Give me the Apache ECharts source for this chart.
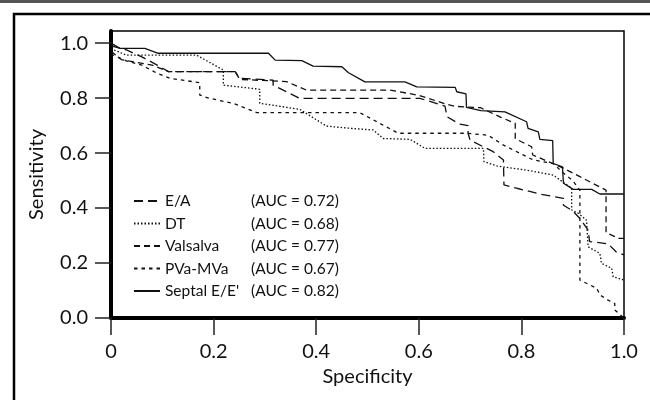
<!DOCTYPE html>
<html>
<head>
<meta charset="utf-8">
<script src="https://cdn.jsdelivr.net/npm/echarts@6/dist/echarts.min.js"></script>
<style>
  html, body { margin: 0; padding: 0; background: #fff; }
  #chart { width: 650px; height: 400px; }
</style>
</head>
<body>
<div id="chart"></div>
<script>
// ROC curves: [specificity, sensitivity]
const seriesNames = ['E/A', 'DT', 'Valsalva', 'PVa-MVa', "Septal E/E'"];
const aucValues = ['0.72', '0.68', '0.77', '0.67', '0.82'];
const tickValues = [0, 0.2, 0.4, 0.6, 0.8, 1.0];

const eaPoints = [
  [0, 0.99], [0.03, 0.975], [0.06, 0.95], [0.09, 0.92], [0.112, 0.896], [0.242, 0.896],
  [0.251, 0.872], [0.316, 0.865], [0.316, 0.847], [0.368, 0.799], [0.602, 0.799],
  [0.651, 0.771], [0.655, 0.732], [0.68, 0.705], [0.696, 0.70], [0.696, 0.672],
  [0.70, 0.647], [0.745, 0.605], [0.765, 0.575], [0.766, 0.484], [0.791, 0.472],
  [0.836, 0.451], [0.882, 0.435], [0.882, 0.41], [0.90, 0.39], [0.915, 0.36],
  [0.93, 0.32], [0.933, 0.278], [0.969, 0.27], [0.985, 0.24], [1.0, 0.23]
];
const dtPoints = [
  [0, 0.98], [0.025, 0.96], [0.03, 0.956], [0.167, 0.956], [0.219, 0.902], [0.219, 0.847],
  [0.29, 0.832], [0.29, 0.781], [0.368, 0.759], [0.42, 0.698], [0.466, 0.69],
  [0.511, 0.684], [0.531, 0.653], [0.583, 0.65], [0.612, 0.617], [0.726, 0.617],
  [0.727, 0.569], [0.752, 0.553], [0.81, 0.538], [0.862, 0.52], [0.898, 0.472],
  [0.898, 0.393], [0.911, 0.381], [0.927, 0.356], [0.93, 0.259], [0.953, 0.235],
  [0.956, 0.199], [0.976, 0.181], [0.979, 0.15], [1.0, 0.138]
];
const valsalvaPoints = [
  [0, 0.97], [0.02, 0.94], [0.05, 0.93], [0.08, 0.92], [0.112, 0.896], [0.242, 0.896],
  [0.251, 0.868], [0.342, 0.86], [0.381, 0.829], [0.544, 0.829], [0.60, 0.81],
  [0.65, 0.78], [0.67, 0.77], [0.72, 0.765], [0.76, 0.73], [0.788, 0.708],
  [0.788, 0.653], [0.80, 0.641], [0.82, 0.623], [0.822, 0.593], [0.83, 0.587],
  [0.882, 0.545], [0.965, 0.465], [0.965, 0.31], [0.99, 0.29], [1.0, 0.29]
];
const pvaPoints = [
  [0, 0.96], [0.03, 0.935], [0.06, 0.92], [0.09, 0.89], [0.115, 0.872], [0.173, 0.856],
  [0.173, 0.811], [0.19, 0.80], [0.24, 0.78], [0.284, 0.747], [0.485, 0.747],
  [0.56, 0.672], [0.693, 0.672], [0.735, 0.665], [0.765, 0.629], [0.823, 0.575],
  [0.862, 0.562], [0.88, 0.53], [0.90, 0.50], [0.914, 0.465], [0.914, 0.138],
  [0.947, 0.108], [0.953, 0.084], [0.969, 0.065], [0.982, 0.053], [0.982, 0.029], [1.0, 0.0]
];
const septalPoints = [
  [0, 1.0], [0.0175, 0.981], [0.066, 0.981], [0.092, 0.963], [0.307, 0.963], [0.32, 0.938],
  [0.372, 0.936], [0.394, 0.916], [0.45, 0.914], [0.463, 0.892], [0.495, 0.859],
  [0.573, 0.859], [0.596, 0.841], [0.671, 0.839], [0.674, 0.823], [0.692, 0.815],
  [0.693, 0.766], [0.721, 0.754], [0.768, 0.75], [0.81, 0.714], [0.813, 0.69],
  [0.833, 0.677], [0.836, 0.65], [0.861, 0.645], [0.862, 0.562], [0.88, 0.55],
  [0.882, 0.49], [0.901, 0.468], [0.937, 0.468], [0.953, 0.451], [1.0, 0.451]
];

const allPoints = [eaPoints, dtPoints, valsalvaPoints, pvaPoints, septalPoints];
// dash pattern per curve (solid for septal)
const dashTypes = [[9, 5], [1.5, 2], [6, 4], [3.5, 4], 'solid'];

const FONT = 'Lato';
const chart = echarts.init(document.getElementById('chart'));

const option = {
  animation: false,
  backgroundColor: '#fff',
  graphic: [
    // thin grey rule along the very top
    { type: 'rect', shape: { x: 0, y: 0, width: 650, height: 3 }, style: { fill: '#555' }, silent: true },
    // outer figure frame (runs off the right / bottom edge)
    { type: 'rect', shape: { x: 14, y: 14, width: 700, height: 500 }, style: { fill: 'none', stroke: '#000', lineWidth: 2.5 }, silent: true }
  ],
  grid: {
    left: 111,
    right: 26,
    top: 31,
    bottom: 82,
    show: true,
    borderColor: '#000',
    borderWidth: 1.5,
    backgroundColor: 'transparent'
  },
  legend: {
    orient: 'vertical',
    left: 133,
    top: 192,
    padding: 0,
    itemWidth: 26,
    itemHeight: 14,
    itemGap: 4.5,
    itemStyle: { opacity: 0 },
    data: seriesNames,
    formatter: (name) => {
      const i = seriesNames.indexOf(name);
      return `{n|${name}}{a|(AUC = ${aucValues[i]})}`;
    },
    textStyle: {
      fontFamily: FONT,
      fontSize: 15.5,
      color: '#111',
      lineHeight: 18,
      rich: {
        n: { width: 86, fontFamily: FONT, fontSize: 15.5, color: '#111' },
        a: { fontFamily: FONT, fontSize: 15.5, color: '#111' }
      }
    }
  },
  xAxis: {
    type: 'value',
    min: 0,
    max: 1,
    interval: 0.2,
    name: 'Specificity',
    nameLocation: 'middle',
    nameGap: 49,
    nameTextStyle: { fontFamily: FONT, fontSize: 20, color: '#111' },
    axisLine: { show: true, lineStyle: { color: '#000', width: 4 } },
    axisTick: { show: true, length: 17, lineStyle: { color: '#222', width: 1.5 } },
    axisLabel: {
      margin: 24,
      fontFamily: FONT,
      fontSize: 20,
      color: '#111',
      formatter: (v) => (v === 0 ? '0' : v.toFixed(1))
    },
    splitLine: { show: false }
  },
  yAxis: {
    type: 'value',
    min: 0,
    max: 1.044,
    name: 'Sensitivity',
    nameLocation: 'middle',
    nameGap: 64,
    nameTextStyle: { fontFamily: FONT, fontSize: 20, color: '#111' },
    axisLine: { show: true, lineStyle: { color: '#000', width: 4 } },
    axisTick: { show: true, length: 16, customValues: tickValues, lineStyle: { color: '#222', width: 1.5 } },
    axisLabel: {
      margin: 23,
      fontFamily: FONT,
      fontSize: 20,
      color: '#111',
      customValues: tickValues,
      formatter: (v) => v.toFixed(1)
    },
    splitLine: { show: false }
  },
  series: seriesNames.map((name, i) => ({
    name: name,
    type: 'line',
    data: allPoints[i],
    symbol: 'none',
    showSymbol: false,
    clip: false,
    lineStyle: { color: '#111', width: 1.3, type: dashTypes[i] },
    itemStyle: { color: '#111' },
    z: i === 4 ? 4 : 3
  }))
};

chart.setOption(option);
</script>
</body>
</html>
